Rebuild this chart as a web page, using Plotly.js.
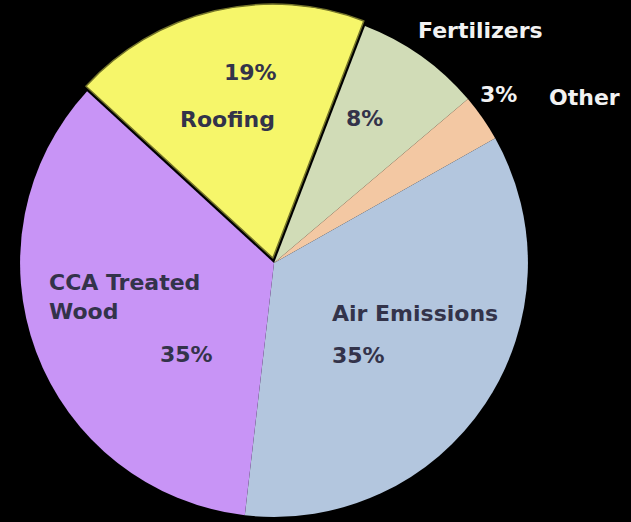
<!DOCTYPE html>
<html>
<head>
<meta charset="utf-8">
<script src="https://cdn.plot.ly/plotly-3.0.1.min.js"></script>
<style>
html,body{margin:0;padding:0;background:#000;}
#chart{width:631px;height:522px;}
</style>
</head>
<body>
<div id="chart"></div>
<script>
// Data (clockwise order starting just right of 12 o'clock)
const categories = ["Fertilizers", "Other", "Air Emissions", "CCA Treated Wood", "Roofing"];
const shares = [8, 3, 35, 35, 19];
const sliceColors = ["#d1dcb7", "#f3c8a3", "#b3c6de", "#c894f6", "#f6f66a"];
const pulls = [0, 0, 0, 0, 0.02];

// Label layout (pixel anchors in the 631x522 frame)
const W = 631, H = 522;
const labelSpecs = [
  // [text, x, y, xanchor, color]
  [categories[0], 480, 30, "center", "#f2f2f2"],
  [shares[0] + "%", 364, 118, "center", "#33334a"],
  [shares[1] + "%", 498, 95, "center", "#f2f2f2"],
  [categories[1], 584, 97, "center", "#f2f2f2"],
  ["Air Emissions", 330, 313, "left", "#33334a"],
  [shares[2] + "%", 330, 355, "left", "#33334a"],
  ["CCA Treated", 47, 282, "left", "#33334a"],
  ["Wood", 47, 311, "left", "#33334a"],
  [shares[3] + "%", 158, 354, "left", "#33334a"],
  [shares[4] + "%", 250, 72, "center", "#33334a"],
  [categories[4], 227, 119, "center", "#33334a"]
];

const annotations = labelSpecs.map(s => ({
  text: s[0],
  x: s[1] / W,
  y: 1 - s[2] / H,
  xref: "paper", yref: "paper",
  xanchor: s[3], yanchor: "middle",
  showarrow: false,
  font: {family: "DejaVu Sans, Arial, sans-serif", size: 22, color: s[4], weight: "bold"}
}));

const trace = {
  type: "pie",
  labels: categories,
  values: shares,
  sort: false,
  direction: "clockwise",
  rotation: 21,
  pull: pulls,
  textinfo: "none",
  hoverinfo: "none",
  showlegend: false,
  marker: {
    colors: sliceColors,
    line: {color: ["#d1dcb7", "#f3c8a3", "#b3c6de", "#c894f6", "#74742a"], width: [0, 0, 0, 0, 1.5]}
  },
  domain: {x: [15 / W, 533 / W], y: [0, 1 - 4 / H]}
};

const layout = {
  width: W, height: H,
  margin: {l: 0, r: 0, t: 0, b: 0},
  paper_bgcolor: "#000",
  plot_bgcolor: "#000",
  annotations: annotations
};

Plotly.newPlot("chart", [trace], layout, {displayModeBar: false, staticPlot: true});
</script>
</body>
</html>
